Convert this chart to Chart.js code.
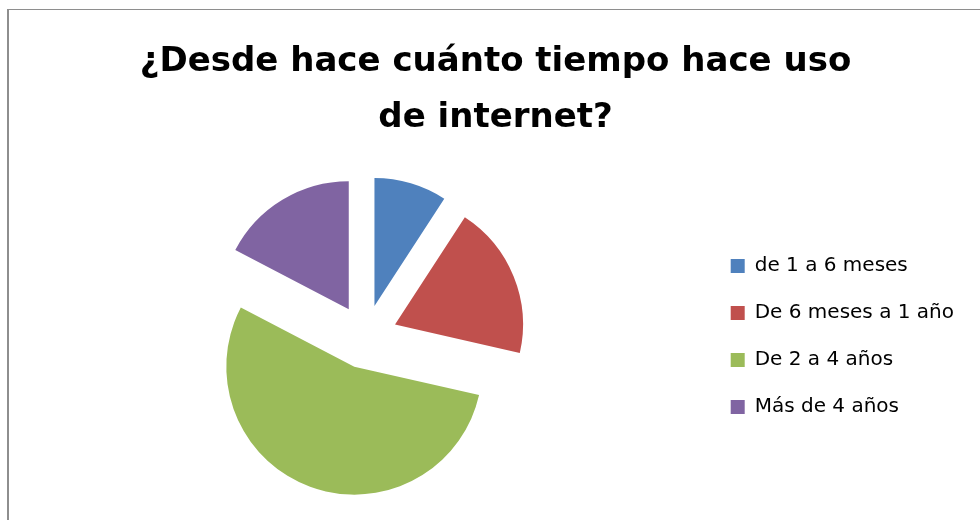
<!DOCTYPE html>
<html lang="es">
<head>
<meta charset="utf-8">
<title>¿Desde hace cuánto tiempo hace uso de internet?</title>
<script src="https://cdn.jsdelivr.net/npm/chart.js@4.4.1/dist/chart.umd.min.js"></script>
<style>
  html, body { margin: 0; padding: 0; background: #ffffff; }
  #wrap { position: relative; width: 980px; height: 520px; overflow: hidden; }
  #frame {
    position: absolute; left: 7px; top: 9px; width: 1200px; height: 800px;
    border-left: 2px solid #8e8e8e; border-top: 1px solid #8e8e8e;
  }
  #chart { position: absolute; left: 0; top: 0; }
</style>
</head>
<body>
<div id="wrap">
  <div id="frame"></div>
  <canvas id="chart" width="980" height="520"></canvas>
</div>
<script>
// Respuestas a la encuesta (número de personas)
const categories = ['de 1 a 6 meses', 'De 6 meses a 1 año', 'De 2 a 4 años', 'Más de 4 años'];
const values = [9, 19, 53, 17];
const sliceColors = ['#4F81BD', '#C0504D', '#9BBB59', '#8064A2'];
const titleLines = ['¿Desde hace cuánto tiempo hace uso', 'de internet?'];

// Exploded pie: after Chart.js lays the slices out, each one is pushed
// away from the centre along its own bisector by the same distance,
// keeping every slice at the same radius.
const EXPLODE_PX = 32;
const explodePlugin = {
  id: 'explodeSlices',
  afterDatasetsUpdate(chart) {
    chart.getDatasetMeta(0).data.forEach(arc => {
      const mid = (arc.startAngle + arc.endAngle) / 2;
      arc.x += Math.cos(mid) * EXPLODE_PX;
      arc.y += Math.sin(mid) * EXPLODE_PX;
    });
  }
};

new Chart(document.getElementById('chart'), {
  type: 'pie',
  data: {
    labels: categories,
    datasets: [{
      data: values,
      backgroundColor: sliceColors,
      borderWidth: 0,
      radius: 128,
      offset: 0,
      hoverOffset: 0
    }]
  },
  plugins: [explodePlugin],
  options: {
    responsive: false,
    animation: false,
    devicePixelRatio: 1,
    events: [],
    layout: { padding: { left: 27, right: 16, top: 0, bottom: 5 } },
    plugins: {
      tooltip: { enabled: false },
      title: {
        display: true,
        text: titleLines,
        color: '#000000',
        font: { family: 'DejaVu Sans', weight: 'bold', size: 34, lineHeight: 1.65 },
        padding: { top: 34, bottom: 12 }
      },
      legend: {
        position: 'right',
        align: 'center',
        fullSize: false,
        labels: {
          boxWidth: 14,
          boxHeight: 14,
          padding: 27,
          color: '#000000',
          font: { family: 'DejaVu Sans', size: 20 }
        }
      }
    }
  }
});
</script>
</body>
</html>
